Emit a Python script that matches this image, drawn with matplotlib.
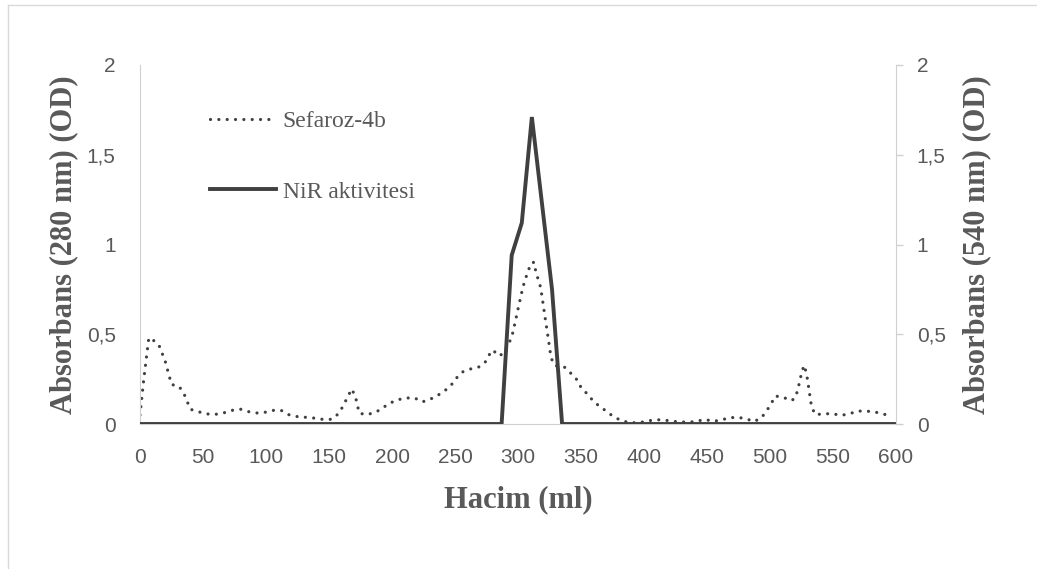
import matplotlib.pyplot as plt
import numpy as np
from matplotlib.lines import Line2D
from matplotlib.ticker import FuncFormatter

# Sefaroz-4b elution profile (280 nm)
hacim_sef = [0, 3, 7, 10, 15, 20, 25, 31, 35, 40, 46, 53, 60, 66, 73, 80, 86, 92,
             99, 106, 112, 118, 125, 132, 138, 145, 152, 157, 161, 164, 168, 171,
             174, 180, 187, 192, 198, 204, 211, 218, 224, 230, 236, 242, 247, 251,
             256, 262, 269, 274, 277, 280, 285, 289, 292, 295, 298, 301, 304, 308,
             311, 313, 314, 318, 321, 324, 326, 328, 332, 337, 342, 347, 350, 355,
             359, 364, 370, 375, 381, 388, 394, 401, 407, 414, 421, 428, 434, 441,
             448, 455, 461, 468, 474, 481, 487, 493, 497, 501, 504, 510, 517, 520,
             522, 525, 527, 529, 531, 533, 536, 543, 550, 556, 563, 569, 575, 582,
             589, 596]
abs_280 = [0.05, 0.25, 0.48, 0.47, 0.44, 0.35, 0.22, 0.21, 0.167, 0.082, 0.069,
           0.056, 0.054, 0.061, 0.076, 0.082, 0.069, 0.061, 0.065, 0.076, 0.076,
           0.052, 0.041, 0.037, 0.033, 0.026, 0.026, 0.054, 0.097, 0.14, 0.195,
           0.152, 0.06, 0.052, 0.065, 0.087, 0.115, 0.134, 0.145, 0.145, 0.123,
           0.137, 0.158, 0.186, 0.217, 0.255, 0.29, 0.306, 0.318, 0.345, 0.384,
           0.412, 0.379, 0.397, 0.44, 0.483, 0.575, 0.672, 0.765, 0.854, 0.9,
           0.9, 0.852, 0.76, 0.617, 0.477, 0.38, 0.333, 0.319, 0.316, 0.282, 0.245,
           0.204, 0.167, 0.134, 0.102, 0.072, 0.045, 0.022, 0.008, 0.007, 0.013,
           0.022, 0.024, 0.017, 0.011, 0.011, 0.013, 0.026, 0.015, 0.022, 0.035,
           0.037, 0.03, 0.013, 0.033, 0.07, 0.113, 0.156, 0.15, 0.13, 0.145, 0.189,
           0.282, 0.327, 0.282, 0.188, 0.095, 0.052, 0.057, 0.057, 0.048, 0.056,
           0.072, 0.072, 0.069, 0.057, 0.045]

# NiR activity (540 nm)
hacim_nir = [0, 287, 295, 303, 311, 319, 327, 335, 600]
abs_540 = [0, 0, 0.94, 1.12, 1.71, 1.23, 0.75, 0, 0]

x_ticks = list(range(0, 601, 50))
y_ticks = [0, 0.5, 1, 1.5, 2]

gray_txt = '#595959'
line_col = '#404040'
spine_col = '#D0D0D0'

fig = plt.figure(figsize=(10.37, 5.69), dpi=100)
ax = fig.add_axes([140/1037, 1 - 424/569, 756/1037, 359/569])
ax2 = ax.twinx()

comma = FuncFormatter(lambda v, p: ('%g' % v).replace('.', ','))

ax.plot(hacim_sef, abs_280, color=line_col, lw=2.3, linestyle=(0, (0.01, 2.6)),
        dash_capstyle='round', label='Sefaroz-4b')
ax2.plot(hacim_nir, abs_540, color=line_col, lw=2.8, solid_joinstyle='miter',
         label='NiR aktivitesi')

for a in (ax, ax2):
    a.set_xlim(0, 600)
    a.set_ylim(0, 2)
    a.set_yticks(y_ticks)
    a.yaxis.set_major_formatter(comma)
    for s in a.spines.values():
        s.set_visible(False)

ax.set_xticks(x_ticks)
ax.spines['left'].set_visible(True)
ax.spines['left'].set_color(spine_col)
ax.spines['bottom'].set_visible(True)
ax.spines['bottom'].set_color(spine_col)
ax2.spines['right'].set_visible(True)
ax2.spines['right'].set_color(spine_col)

ax.tick_params(axis='x', length=0, pad=17, labelcolor=gray_txt, labelsize=15)
ax.tick_params(axis='y', length=0, pad=17.5, labelcolor=gray_txt, labelsize=15)
ax2.tick_params(axis='y', length=5, width=1, color=spine_col, pad=10,
                labelcolor=gray_txt, labelsize=15)
for lab in ax.get_xticklabels() + ax.get_yticklabels() + ax2.get_yticklabels():
    lab.set_fontfamily('Liberation Sans')

lab_font = dict(family='Liberation Serif', weight='bold', size=22, color=gray_txt)
ax.set_xlabel('Hacim (ml)', **lab_font)
ax.set_ylabel('Absorbans (280 nm) (OD)', **lab_font)
ax2.set_ylabel('Absorbans (540 nm) (OD)', **lab_font)
ax.xaxis.set_label_coords(0.5, -0.17)
ax.yaxis.set_label_coords(-0.082, 0.5)
ax2.yaxis.set_label_coords(1.087, 0.5)

h1, l1 = ax.get_legend_handles_labels()
h2, l2 = ax2.get_legend_handles_labels()
leg = ax2.legend(h1 + h2, l1 + l2, loc='upper left', bbox_to_anchor=(0.092, 0.872),
                 frameon=False, borderpad=0, borderaxespad=0, labelspacing=2.06,
                 handlelength=2.8, handletextpad=0.3,
                 prop=dict(family='Liberation Serif', size=17))
for t in leg.get_texts():
    t.set_color(gray_txt)

# chart-area border (left and top edges visible)
fig.add_artist(Line2D([8/1037, 8/1037], [0, 1 - 4.5/569], transform=fig.transFigure,
                      color='#D9D9D9', lw=1))
fig.add_artist(Line2D([8/1037, 1], [1 - 4.5/569, 1 - 4.5/569], transform=fig.transFigure,
                      color='#D9D9D9', lw=1))

fig.savefig('out.png', dpi=100)
